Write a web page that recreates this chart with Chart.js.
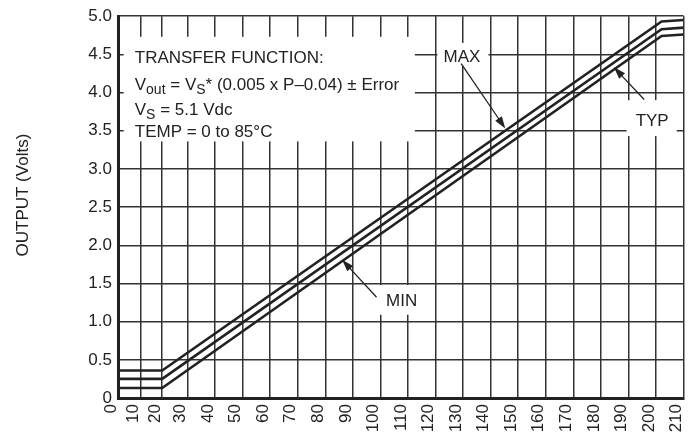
<!DOCTYPE html>
<html lang="en">
<head>
<meta charset="UTF-8">
<title>Output vs Pressure</title>
<script src="https://cdn.jsdelivr.net/npm/chart.js"></script>
<style>
  html, body { margin: 0; padding: 0; background: #fff; overflow: hidden; }
  #wrap { width: 710px; height: 434px; }
</style>
</head>
<body>
<div id="wrap"><canvas id="outChart" width="710" height="434"></canvas></div>
<script>
// pressure (x) and the three output curves
const pressure = [0, 20, 202, 210];
const outMax = [0.36, 0.36, 4.93, 4.95];
const outTyp = [0.25, 0.25, 4.83, 4.85];
const outMin = [0.13, 0.13, 4.74, 4.76];

const xTicks = [0, 10, 20, 30, 40, 50, 60, 70, 80, 90, 100, 110, 120, 130, 140, 150, 160, 170, 180, 190, 200, 210];
const yTicks = [0, 0.5, 1.0, 1.5, 2.0, 2.5, 3.0, 3.5, 4.0, 4.5, 5.0];

const yTitle = 'OUTPUT (Volts)';

// the original drawing squeezes the first three columns a little
const warpIn = [0, 10, 20, 30, 210];
const warpOut = [0, 8.4, 16.4, 25.8, 210];

function piecewise(v, a, b) {
    for (let i = 1; i < a.length; i++) {
        if (v <= a[i] || i === a.length - 1) {
            const t = (v - a[i - 1]) / (a[i] - a[i - 1]);
            return b[i - 1] + t * (b[i] - b[i - 1]);
        }
    }
    return v;
}

class WarpedLinearScale extends Chart.LinearScale {
    getPixelForValue(v) {
        return super.getPixelForValue(piecewise(v, warpIn, warpOut));
    }
    getValueForPixel(p) {
        return piecewise(super.getValueForPixel(p), warpOut, warpIn);
    }
}
WarpedLinearScale.id = 'warpedLinear';
WarpedLinearScale.defaults = Chart.LinearScale.defaults;
Chart.register(WarpedLinearScale);

const FONT = "'Liberation Sans', Arial, Helvetica, sans-serif";
const INK = '#222';

// annotation text, in data units (pressure, volts)
const whiteBoxes = [
    [2.5, 4.73, 112.5, 3.36],
    [120.7, 4.65, 139.2, 4.35],
    [189.3, 3.90, 207.5, 3.43],
    [97.9, 1.48, 116.4, 1.09]
];
const noteLines = [
    { x: 7.4, y: 4.39, parts: [['TRANSFER FUNCTION:', 0]] },
    { x: 7.4, y: 4.03, parts: [['V', 0], ['out', 1], [' = V', 0], ['S', 1], ['* (0.005 x P\u20130.04) \u00b1 Error', 0]] },
    { x: 7.4, y: 3.70, parts: [['V', 0], ['S', 1], [' = 5.1 Vdc', 0]] },
    { x: 7.4, y: 3.42, parts: [['TEMP = 0 to 85\u00b0C', 0]] }
];
const curveLabels = [
    { text: 'MAX', x: 129.6, y: 4.40, from: [129.3, 4.38], to: [145.3, 3.53] },
    { text: 'TYP', x: 198.6, y: 3.56, from: [195.7, 3.91], to: [184.7, 4.33] },
    { text: 'MIN', x: 107.7, y: 1.20, from: [98.6, 1.32], to: [86.1, 1.81] }
];

function arrow(ctx, x1, y1, x2, y2) {
    const ang = Math.atan2(y2 - y1, x2 - x1);
    const len = 12, half = 4;
    ctx.beginPath();
    ctx.moveTo(x1, y1);
    ctx.lineTo(x2 - Math.cos(ang) * len * 0.8, y2 - Math.sin(ang) * len * 0.8);
    ctx.stroke();
    ctx.beginPath();
    ctx.moveTo(x2, y2);
    ctx.lineTo(x2 - Math.cos(ang) * len - Math.sin(ang) * half, y2 - Math.sin(ang) * len + Math.cos(ang) * half);
    ctx.lineTo(x2 - Math.cos(ang) * len + Math.sin(ang) * half, y2 - Math.sin(ang) * len - Math.cos(ang) * half);
    ctx.closePath();
    ctx.fill();
}

const notesPlugin = {
    id: 'notes',
    beforeDatasetsDraw(chart) {
        const ctx = chart.ctx, xs = chart.scales.x, ys = chart.scales.y;
        ctx.save();
        ctx.fillStyle = '#fff';
        whiteBoxes.forEach(b => {
            const x1 = xs.getPixelForValue(b[0]), y1 = ys.getPixelForValue(b[1]);
            const x2 = xs.getPixelForValue(b[2]), y2 = ys.getPixelForValue(b[3]);
            ctx.fillRect(x1, y1, x2 - x1, y2 - y1);
        });
        ctx.restore();
    },
    afterDatasetsDraw(chart) {
        const ctx = chart.ctx, xs = chart.scales.x, ys = chart.scales.y;
        ctx.save();
        ctx.fillStyle = INK;
        ctx.strokeStyle = INK;
        ctx.textBaseline = 'alphabetic';
        noteLines.forEach(l => {
            let x = xs.getPixelForValue(l.x);
            const y = ys.getPixelForValue(l.y);
            l.parts.forEach(p => {
                ctx.font = (p[1] ? '14px ' : '17px ') + FONT;
                ctx.fillText(p[0], x, y + (p[1] ? 4 : 0));
                x += ctx.measureText(p[0]).width;
            });
        });
        ctx.font = '17px ' + FONT;
        ctx.textAlign = 'center';
        ctx.lineWidth = 1.3;
        curveLabels.forEach(c => {
            ctx.fillText(c.text, xs.getPixelForValue(c.x), ys.getPixelForValue(c.y));
            arrow(ctx, xs.getPixelForValue(c.from[0]), ys.getPixelForValue(c.from[1]),
                xs.getPixelForValue(c.to[0]), ys.getPixelForValue(c.to[1]));
        });

        // y axis title, sits a bit above the middle in the original
        const ca = chart.chartArea;
        ctx.translate(23, (ca.top + ca.bottom) / 2 - 12);
        ctx.rotate(-Math.PI / 2);
        ctx.textBaseline = 'middle';
        ctx.fillText(yTitle, 0, 0);
        ctx.restore();
    }
};

function curve(label, vals) {
    return {
        label: label,
        data: pressure.map((p, i) => ({ x: p, y: vals[i] })),
        borderColor: INK,
        borderWidth: 2.6,
        pointRadius: 0,
        fill: false,
        tension: 0
    };
}

const ctx = document.getElementById('outChart').getContext('2d');
new Chart(ctx, {
    type: 'line',
    data: {
        datasets: [curve('MAX', outMax), curve('TYP', outTyp), curve('MIN', outMin)]
    },
    options: {
        responsive: false,
        animation: false,
        events: [],
        layout: { padding: { top: 16, right: 15, bottom: 0, left: 0 } },
        plugins: { legend: { display: false }, tooltip: { enabled: false } },
        scales: {
            x: {
                type: 'warpedLinear',
                min: 0,
                max: 210,
                afterBuildTicks: s => { s.ticks = xTicks.map(v => ({ value: v })); },
                afterFit: s => { s.height = 36; },
                grid: { color: '#333', lineWidth: 1.5, drawTicks: false },
                border: { color: INK, width: 3 },
                ticks: {
                    autoSkip: false,
                    minRotation: 90,
                    maxRotation: 90,
                    padding: 6,
                    labelOffset: -7,
                    color: INK,
                    font: { family: FONT, size: 17 },
                    callback: v => String(v)
                }
            },
            y: {
                min: 0,
                max: 5,
                afterBuildTicks: s => { s.ticks = yTicks.map(v => ({ value: v })); },
                afterFit: s => { s.width = 118; },
                grid: { color: '#333', lineWidth: 1.5, drawTicks: false },
                border: { color: INK, width: 3 },
                ticks: {
                    padding: 6,
                    color: INK,
                    font: { family: FONT, size: 17 },
                    callback: v => (v === 0 ? '0' : v.toFixed(1))
                }
            }
        }
    },
    plugins: [notesPlugin]
});
</script>
</body>
</html>
